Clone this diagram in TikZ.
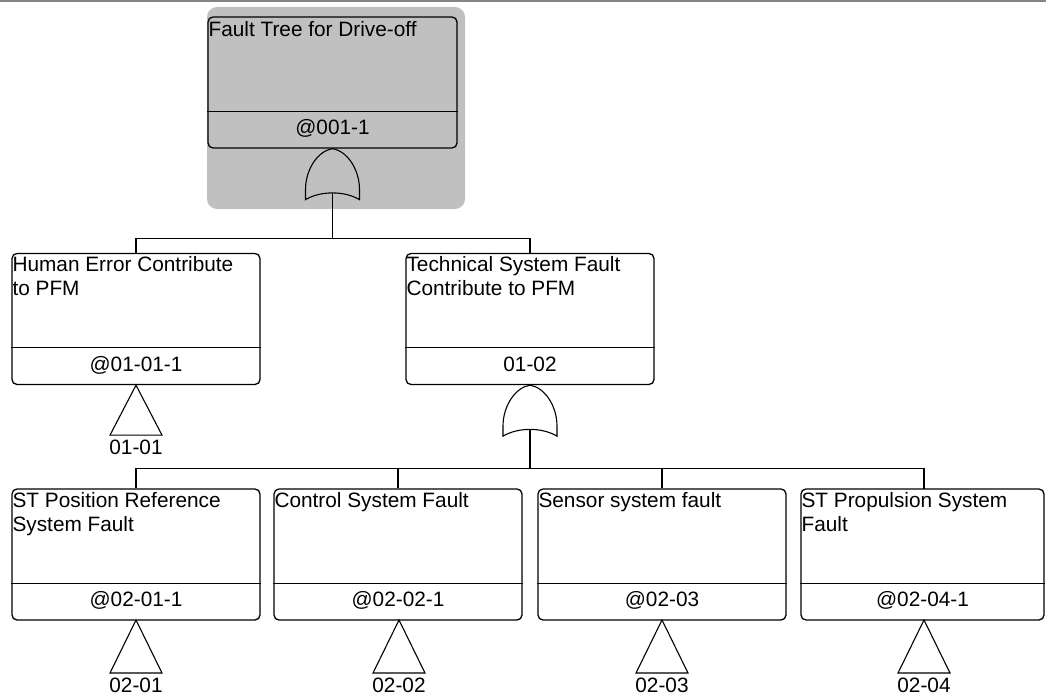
\documentclass[tikz,border=0pt]{standalone}
\usepackage{fontspec}
\setmainfont{Liberation Sans}
\usetikzlibrary{calc}
\definecolor{panelgray}{HTML}{C0C0C0}
\definecolor{rulegray}{HTML}{858585}
\tikzset{
  faultbox/.style={draw=black, line width=1.3pt, rounded corners=5pt, minimum width=248pt, minimum height=131pt, inner sep=0pt, fill=white},
  topbox/.style={faultbox, fill=panelgray, minimum width=249pt},
  titletext/.style={anchor=base west, align=left, inner sep=0pt, font=\fontsize{20.8}{24}\selectfont},
  idtext/.style={anchor=base, inner sep=0pt, font=\fontsize{20.8}{24}\selectfont},
  wire/.style={draw=black, line width=1.2pt},
  gateline/.style={draw=black, line width=1.1pt},
  orgate/.pic={
    \draw[gateline] (0,0) .. controls (-14,2) and (-27,20) .. (-27,41) -- (-27,51)
      .. controls (-12,42) and (12,42) .. (27,51) -- (27,41)
      .. controls (27,20) and (14,2) .. (0,0);
    \coordinate (-out) at (0,44.3);
  },
}
\begin{document}
\begin{tikzpicture}[x=1pt, y=-1pt]
\useasboundingbox (0,0) rectangle (1046,698);
\fill[white] (0,0) rectangle (1046,698);
\draw[rulegray, line width=2.4pt] (0,0.8) -- (1046,0.8);
% gray panel behind top event
\fill[panelgray, rounded corners=10pt] (207,7) rectangle (465,209);

% top event
\node[topbox] (top) at (332.5,82.5) {};
\draw[black, line width=1.3pt] ($(top.south west)+(0,-37)$) -- ($(top.south east)+(0,-37)$);
\node[titletext] (toptitle) at ($(top.north west)+(1,20)$) {Fault Tree for Drive-off};
\node[idtext] (topid) at ($(top.south)+(0,-14)$) {@001-1};
\pic (g1) at (top.south) {orgate};

% level 2
\node[faultbox] (hum) at (136,319) {};
\node[faultbox] (tech) at (530,319) {};
\foreach \b/\t/\i in {hum/{Human Error Contribute\\to PFM}/{@01-01-1}, tech/{Technical System Fault\\Contribute to PFM}/{01-02}}{
  \draw[black, line width=1.3pt] ($(\b.south west)+(0,-38)$) -- ($(\b.south east)+(0,-38)$);
  \node[titletext] (\b-title) at ($(\b.north west)+(1,43)$) {\t};
  \node[idtext] (\b-id) at ($(\b.south)+(0,-14)$) {\i};
}
\draw[wire] (g1-out) -- ++(0,45.7) coordinate (bus1);
\draw[wire] (hum.north) -- (hum.north |- bus1) -- (tech.north |- bus1) -- (tech.north);

% transfer for human error
\draw[gateline] (hum.south) -- ++(-26,50) -- ++(52,0) -- cycle;
\node[idtext] (hum-tr) at ($(hum.south)+(0,69)$) {01-01};

% gate under technical
\pic (g2) at (tech.south) {orgate};
\draw[wire] (g2-out) -- ++(0,38.7) coordinate (bus2);

% level 3
\node[faultbox] (pos) at (136,554.5) {};
\node[faultbox] (ctl) at (398,554.5) {};
\node[faultbox] (sen) at (662,554.5) {};
\node[faultbox, minimum width=243pt] (pro) at (922.5,554.5) {};
\coordinate (pro-in) at (924,489);
\draw[wire] (pos.north) -- (pos.north |- bus2) -- (pro-in |- bus2) -- (pro-in);

\foreach \b/\t/\i/\o in {pos/{ST Position Reference\\System Fault}/{@02-01-1}/43,
                         ctl/{Control System Fault}/{@02-02-1}/19,
                         sen/{Sensor system fault}/{@02-03}/19,
                         pro/{ST Propulsion System\\Fault}/{@02-04-1}/43}{
  \draw[black, line width=1.3pt] ($(\b.south west)+(0,-37)$) -- ($(\b.south east)+(0,-37)$);
  \node[titletext] (\b-title) at ($(\b.north west)+(1,\o)$) {\t};
  \node[idtext] (\b-id) at ($(\b.south)+(0,-14)$) {\i};
}
\foreach \b/\tr/\x in {pos/{02-01}/136, ctl/{02-02}/399, sen/{02-03}/662, pro/{02-04}/924}{
  \coordinate (\b-apex) at (\x,620);
  \draw[gateline] (\b-apex) -- ++(-26,53) -- ++(52,0) -- cycle;
  \node[idtext] (\b-tr) at ($(\b-apex)+(0,72)$) {\tr};
}
\draw[wire] (ctl.north |- bus2) -- (ctl.north);
\draw[wire] (sen.north |- bus2) -- (sen.north);
\end{tikzpicture}
\end{document}
